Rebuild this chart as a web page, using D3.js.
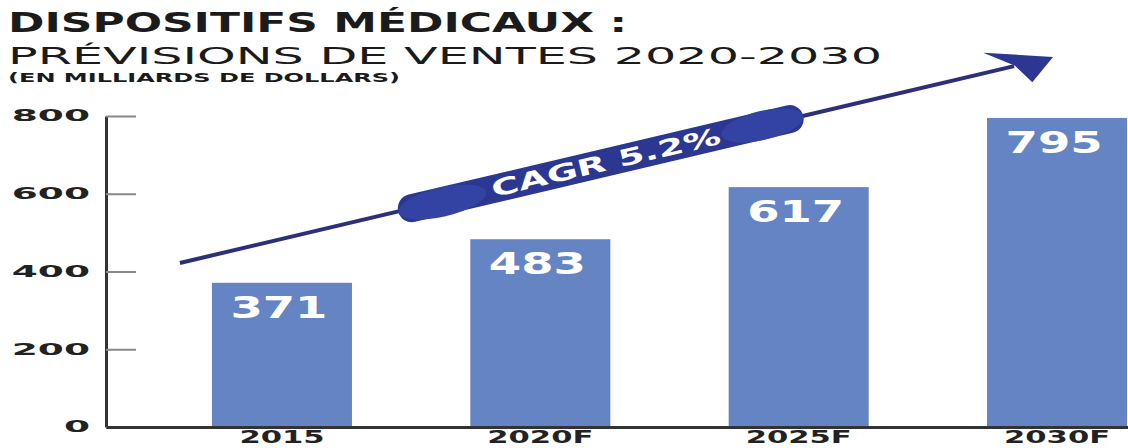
<!DOCTYPE html>
<html>
<head>
<meta charset="utf-8">
<script src="https://cdn.jsdelivr.net/npm/d3@7"></script>
<style>
  body { margin: 0; background: #fff; }
  svg { display: block; font-family: "DejaVu Sans", sans-serif; }
</style>
</head>
<body>
<div id="chart"></div>
<script>
// values
var categories = ["2015", "2020F", "2025F", "2030F"];
var sales = [371, 483, 617, 795];
var yTicks = [0, 200, 400, 600, 800];
var titleLines = ["DISPOSITIFS MÉDICAUX :", "PRÉVISIONS DE VENTES 2020-2030", "(EN MILLIARDS DE DOLLARS)"];
var cagrLabel = "CAGR 5.2%";
// trend arrow, in value units (start just left of 2015, tip above 2030F)
var arrowFrom = 422;
var arrowTo = 952;

var width = 1128;
var height = 448;

var barColor = "#6484c3";
var navy = "#2b3790";

var svg = d3.select("#chart")
    .append("svg")
    .attr("width", width)
    .attr("height", height)
    .style("background-color", "#fff");

var x = d3.scaleBand()
    .domain(categories)
    .range([106, 1233])
    .paddingInner(0.458)
    .paddingOuter(0.41);

var y = d3.scaleLinear()
    .domain([0, 800])
    .range([427, 116]);

// titles
var title = svg.append("g").attr("fill", "#1b1b1b");
title.append("text")
    .attr("x", 8).attr("y", 32)
    .attr("font-size", 26).attr("font-weight", "bold")
    .attr("textLength", 619).attr("lengthAdjust", "spacingAndGlyphs")
    .text(titleLines[0]);
title.append("text")
    .attr("x", 8).attr("y", 64)
    .attr("font-size", 23)
    .attr("textLength", 874).attr("lengthAdjust", "spacingAndGlyphs")
    .text(titleLines[1]);
title.append("text")
    .attr("x", 8).attr("y", 82)
    .attr("font-size", 13).attr("font-weight", "bold")
    .attr("textLength", 392).attr("lengthAdjust", "spacingAndGlyphs")
    .text(titleLines[2]);

// bars
svg.append("g")
    .selectAll("rect")
    .data(sales)
    .enter().append("rect")
    .attr("x", function(d, i) { return x(categories[i]); })
    .attr("y", function(d) { return y(d); })
    .attr("width", x.bandwidth())
    .attr("height", function(d) { return y(0) - y(d); })
    .attr("fill", barColor);

svg.append("g")
    .selectAll("text")
    .data(sales)
    .enter().append("text")
    .attr("transform", function(d, i) {
        return "translate(" + (x(categories[i]) + x.bandwidth() / 2 - 3) + "," + (y(d) + 35) + ") scale(1.55,1)";
    })
    .attr("text-anchor", "middle")
    .attr("font-size", 30)
    .attr("font-weight", "bold")
    .attr("fill", "#fff")
    .text(function(d) { return d; });

// y axis
var yAxis = svg.append("g")
    .attr("transform", "translate(106,0)")
    .call(d3.axisLeft(y).tickValues(yTicks).tickSize(-30).tickSizeOuter(0).tickPadding(16));
yAxis.select(".domain").attr("stroke", "#333").attr("stroke-width", 3);
yAxis.selectAll(".tick line").attr("stroke", "#888").attr("stroke-width", 2);
yAxis.selectAll(".tick text")
    .attr("x", null)
    .attr("transform", "translate(-16,0) scale(2.5,1)")
    .attr("font-size", 15)
    .attr("font-weight", "bold")
    .attr("font-family", "DejaVu Sans")
    .attr("fill", "#222");

// x axis
var xAxis = svg.append("g")
    .attr("transform", "translate(0," + y(0) + ")")
    .call(d3.axisBottom(x).tickSize(0).tickSizeOuter(0).tickPadding(4));
xAxis.select(".domain").attr("stroke", "#333").attr("stroke-width", 3);
xAxis.selectAll(".tick text")
    .attr("transform", "scale(1.8,1)")
    .attr("font-size", 17)
    .attr("font-weight", "bold")
    .attr("font-family", "DejaVu Sans")
    .attr("fill", "#222");

// trend arrow with CAGR pill
var x0 = x(categories[0]) - 32;
var y0 = y(arrowFrom);
var x1 = x(categories[3]) + 66;
var y1 = y(arrowTo);
var L = Math.sqrt((x1 - x0) * (x1 - x0) + (y1 - y0) * (y1 - y0));
var angle = Math.atan2(y1 - y0, x1 - x0) * 180 / Math.PI;

var arrow = svg.append("g")
    .attr("transform", "translate(" + x0 + "," + y0 + ") rotate(" + angle + ")");

arrow.append("line")
    .attr("x1", 0).attr("y1", 0)
    .attr("x2", L - 40).attr("y2", 0)
    .attr("stroke", "#2d3078")
    .attr("stroke-width", 4);

arrow.append("path")
    .attr("d", "M" + L + ",0 L" + (L - 67) + ",-20 L" + (L - 39) + ",0 L" + (L - 26) + ",20 Z")
    .attr("fill", navy);

var pillStart = 0.25 * L;
var pillEnd = 0.714 * L;
arrow.append("rect")
    .attr("x", pillStart).attr("y", -14)
    .attr("width", pillEnd - pillStart).attr("height", 28)
    .attr("rx", 14)
    .attr("fill", navy);
arrow.append("ellipse")
    .attr("cx", pillStart + 45).attr("cy", 1)
    .attr("rx", 45).attr("ry", 14.5)
    .attr("fill", "#3343a3");
arrow.append("ellipse")
    .attr("cx", pillEnd - 42).attr("cy", 0)
    .attr("rx", 42).attr("ry", 14.5)
    .attr("fill", "#3343a3");

arrow.append("text")
    .attr("x", 0.488 * L).attr("y", 8)
    .attr("text-anchor", "middle")
    .attr("font-size", 23)
    .attr("font-weight", "bold")
    .attr("fill", "#fff")
    .attr("textLength", 235).attr("lengthAdjust", "spacingAndGlyphs")
    .text(cagrLabel);
</script>
</body>
</html>
